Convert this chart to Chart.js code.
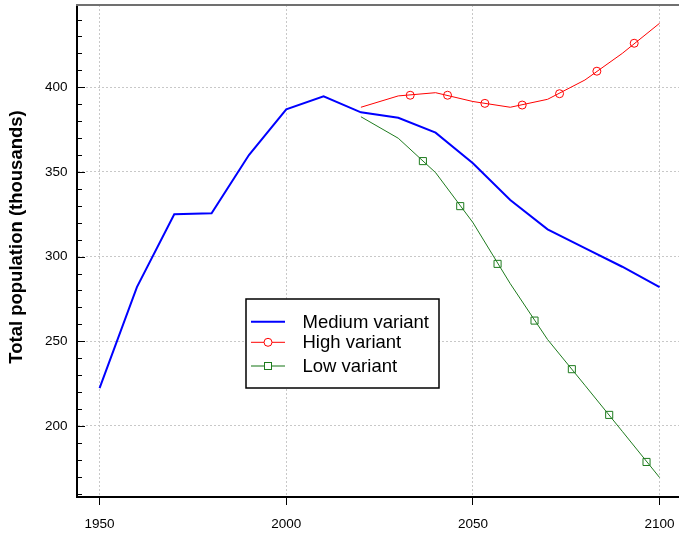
<!DOCTYPE html>
<html>
<head>
<meta charset="utf-8">
<script src="https://cdn.jsdelivr.net/npm/chart.js@4"></script>
<style>
  html, body { margin: 0; padding: 0; background: #fff; }
  #wrap { width: 679px; height: 535px; }
</style>
</head>
<body>
<div id="wrap"><canvas id="popChart" width="679" height="535"></canvas></div>
<script>
// values
const years = [1950, 1960, 1970, 1980, 1990, 2000, 2010, 2020, 2030, 2040, 2050, 2060, 2070, 2080, 2090, 2100];
const medium = [222.3, 282, 325, 325.6, 360, 387, 394.7, 385.2, 382, 373.2, 355.1, 333.4, 316.1, 305, 294, 282];

const projYears = [2020, 2030, 2040, 2050, 2060, 2070, 2080, 2090, 2100];
const high = [388.2, 394.9, 396.8, 391.6, 388.2, 392.9, 404.3, 420, 437.8];
const low = [382.6, 369.9, 349.6, 320.1, 284, 251, 224, 196.8, 169.5];

// the symbols sit between the data years
const highMarkYears = [2033.2, 2043.2, 2053.2, 2063.2, 2073.2, 2083.2, 2093.2];
const highMarks = [395.3, 395.3, 390.5, 389.5, 396.2, 409.5, 426];
const lowMarkYears = [2036.6, 2046.6, 2056.6, 2066.5, 2076.5, 2086.5, 2096.5];
const lowMarks = [356.4, 329.8, 295.7, 262.2, 233.5, 206.5, 178.7];

const seriesNames = ['Medium variant', 'High variant', 'Low variant'];
const xTicks = [1950, 2000, 2050, 2100];
const yTicks = [200, 250, 300, 350, 400];
const yMinorTicks = [160, 170, 180, 190, 210, 220, 230, 240, 260, 270, 280, 290, 310, 320, 330, 340, 360, 370, 380, 390, 410, 420, 430, 440];
const yTitle = 'Total population (thousands)';

const BLUE = '#0000ff';
const RED = '#ff0000';
const GREEN = '#1e7b1e';
const FONT = '"Liberation Sans", Arial, sans-serif';

function pts(xs, ys) {
    return xs.map((x, i) => ({ x: x, y: ys[i] }));
}

// no extra room around the plot for the end labels
function noPad(scale) {
    scale.paddingTop = 0;
    scale.paddingBottom = 0;
    scale.paddingLeft = 0;
    scale.paddingRight = 0;
}

// frame bits, inward y ticks, axis title and the legend box
const decorations = {
    id: 'decorations',
    afterDraw(chart) {
        const ctx = chart.ctx;
        const area = chart.chartArea;
        const yScale = chart.scales.y;
        ctx.save();

        // grey top border
        ctx.strokeStyle = '#707070';
        ctx.lineWidth = 2;
        ctx.beginPath();
        ctx.moveTo(area.left - 1, area.top);
        ctx.lineTo(area.right, area.top);
        ctx.stroke();

        // y tick marks pointing into the plot
        ctx.strokeStyle = '#000';
        ctx.lineWidth = 1;
        yMinorTicks.forEach(v => {
            const y = Math.round(yScale.getPixelForValue(v)) + 0.5;
            ctx.beginPath();
            ctx.moveTo(area.left, y);
            ctx.lineTo(area.left + 5, y);
            ctx.stroke();
        });
        yTicks.forEach(v => {
            const y = Math.round(yScale.getPixelForValue(v)) + 0.5;
            ctx.beginPath();
            ctx.moveTo(area.left, y);
            ctx.lineTo(area.left + 8, y);
            ctx.stroke();
        });

        // y axis title
        ctx.fillStyle = '#000';
        ctx.font = 'bold 18.5px ' + FONT;
        ctx.textAlign = 'center';
        ctx.textBaseline = 'middle';
        ctx.translate(16.5, 237);
        ctx.rotate(-Math.PI / 2);
        ctx.fillText(yTitle, 0, 0);
        ctx.setTransform(1, 0, 0, 1, 0, 0);

        // legend
        const bx = 246, by = 299, bw = 193, bh = 89;
        ctx.fillStyle = '#fff';
        ctx.fillRect(bx, by, bw, bh);
        ctx.strokeStyle = '#000';
        ctx.lineWidth = 1.5;
        ctx.strokeRect(bx, by, bw, bh);

        const rows = [321.7, 342.3, 366];
        const colors = [BLUE, RED, GREEN];
        const widths = [2, 1, 1.5];
        ctx.font = '18.5px ' + FONT;
        ctx.textAlign = 'left';
        ctx.textBaseline = 'middle';
        seriesNames.forEach((name, i) => {
            const y = rows[i];
            ctx.strokeStyle = colors[i];
            ctx.globalAlpha = i === 2 ? 0.7 : 1;
            ctx.lineWidth = widths[i];
            ctx.beginPath();
            ctx.moveTo(251, y);
            ctx.lineTo(285, y);
            ctx.stroke();
            ctx.globalAlpha = 1;
            ctx.lineWidth = 1;
            if (i === 1) {
                ctx.fillStyle = '#fff';
                ctx.beginPath();
                ctx.arc(268, y, 4, 0, Math.PI * 2);
                ctx.fill();
                ctx.stroke();
            } else if (i === 2) {
                ctx.fillStyle = '#fff';
                ctx.fillRect(264.5, y - 3.5, 7, 7);
                ctx.strokeRect(264.5, y - 3.5, 7, 7);
            }
            ctx.fillStyle = '#000';
            ctx.fillText(name, 302.5, y + 1);
        });
        ctx.restore();
    }
};

const ctx = document.getElementById('popChart').getContext('2d');
window.popChart = new Chart(ctx, {
    type: 'line',
    data: {
        datasets: [
            {
                label: seriesNames[0],
                data: pts(years, medium),
                borderColor: BLUE,
                borderWidth: 2,
                pointRadius: 0,
                tension: 0
            },
            {
                label: seriesNames[1],
                data: pts(projYears, high),
                borderColor: RED,
                borderWidth: 1,
                pointRadius: 0,
                tension: 0
            },
            {
                label: seriesNames[2],
                data: pts(projYears, low),
                borderColor: GREEN,
                borderWidth: 1,
                pointRadius: 0,
                tension: 0
            },
            {
                label: 'high marks',
                data: pts(highMarkYears, highMarks),
                showLine: false,
                pointStyle: 'circle',
                pointRadius: 4,
                pointBorderWidth: 1,
                borderColor: RED,
                backgroundColor: 'rgba(0,0,0,0)'
            },
            {
                label: 'low marks',
                data: pts(lowMarkYears, lowMarks),
                showLine: false,
                pointStyle: 'rect',
                pointRadius: 5,
                pointBorderWidth: 1,
                borderColor: GREEN,
                backgroundColor: 'rgba(0,0,0,0)'
            }
        ]
    },
    options: {
        responsive: false,
        animation: false,
        layout: { autoPadding: false, padding: { top: 5, right: 0, bottom: 0, left: 0 } },
        plugins: {
            legend: { display: false },
            tooltip: { enabled: false }
        },
        scales: {
            x: {
                type: 'linear',
                min: 1943.95,
                max: 2105.2,
                afterBuildTicks: scale => { scale.ticks = xTicks.map(v => ({ value: v })); },
                afterFit: scale => { scale.height = 38; noPad(scale); },
                border: { display: true, color: '#000', width: 2, dash: [2, 2] },
                grid: {
                    color: '#c8c8c8',
                    lineWidth: 1,
                    drawTicks: true,
                    tickLength: 8,
                    tickColor: '#000',
                    tickWidth: 1,
                    tickBorderDash: []
                },
                ticks: {
                    color: '#000',
                    font: { family: FONT, size: 13.5 },
                    padding: 11,
                    maxRotation: 0,
                    callback: v => String(v)
                }
            },
            y: {
                type: 'linear',
                min: 158.0,
                max: 448.6,
                afterBuildTicks: scale => { scale.ticks = yTicks.map(v => ({ value: v })); },
                afterFit: scale => { scale.width = 77; noPad(scale); },
                border: { display: true, color: '#000', width: 2, dash: [2, 2] },
                grid: {
                    color: '#c8c8c8',
                    lineWidth: 1,
                    drawTicks: false
                },
                ticks: {
                    color: '#000',
                    font: { family: FONT, size: 13.5 },
                    padding: 9.5,
                    callback: v => String(v)
                }
            }
        }
    },
    plugins: [decorations]
});
</script>
</body>
</html>
